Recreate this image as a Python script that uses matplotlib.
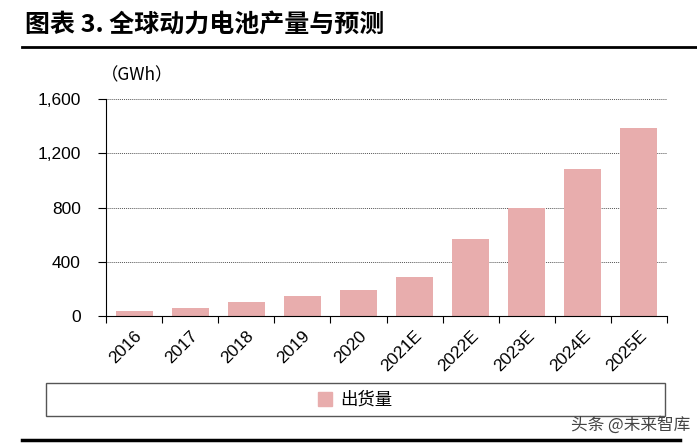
import matplotlib.pyplot as plt
from matplotlib.patches import Rectangle
from matplotlib.lines import Line2D
import numpy as np

plt.rcParams['font.family'] = ['Liberation Sans', 'Noto Sans CJK SC', 'DejaVu Sans']

# data
years = ["2016", "2017", "2018", "2019", "2020",
         "2021E", "2022E", "2023E", "2024E", "2025E"]
shipment = [37, 60, 104, 145, 190, 285, 572, 797, 1087, 1390]
y_ticks = [0, 400, 800, 1200, 1600]
title = "图表 3. 全球动力电池产量与预测"
unit = "（GWh）"
legend_label = "出货量"
watermark = "头条 @未来智库"

bar_color = "#E8ADAD"

W, H = 697, 447
fig = plt.figure(figsize=(W / 100, H / 100), dpi=100)

ax = fig.add_axes([106 / W, 1 - 316 / H, (667 - 106) / W, (316 - 99.3) / H])
x = np.arange(len(years))
ax.bar(x, shipment, width=0.66, color=bar_color, zorder=2)

ax.set_xlim(-0.5, len(years) - 0.5)
ax.set_ylim(0, 1600)
ax.set_yticks(y_ticks)
ax.set_yticklabels(["{:,}".format(v) for v in y_ticks])
ax.set_xticks(x)
ax.set_xticklabels(years, rotation=45, ha="right", va="top", rotation_mode="anchor")
ax.set_xticks(np.arange(-0.5, len(years)), minor=True)
ax.tick_params(axis="x", which="major", length=0, pad=9, labelsize=12.5)
ax.tick_params(axis="x", which="minor", length=5, width=0.8, direction="out")
ax.tick_params(axis="y", length=6, width=0.8, pad=12, labelsize=12.5)

ax.grid(axis="y", linestyle=(0, (1, 1)), color="#555555", linewidth=0.7, zorder=0)
for s in ["top", "right"]:
    ax.spines[s].set_visible(False)
for s in ["left", "bottom"]:
    ax.spines[s].set_color("black")
    ax.spines[s].set_linewidth(0.8)

# title and rules
fig.text(25 / W, 1 - 25 / H, title, fontsize=18, fontweight="bold",
         family=["Noto Sans CJK SC", "DejaVu Sans"], va="center", ha="left")
fig.add_artist(Line2D([22 / W, 1], [1 - 47 / H] * 2, color="black", lw=2))
fig.add_artist(Line2D([22 / W, 680 / W], [1 - 440 / H] * 2, color="black", lw=2.5))

fig.text(101 / W, 1 - 75 / H, unit, fontsize=12.5, va="center", ha="left",
         family=["Noto Sans CJK SC", "DejaVu Sans"])

# legend box
fig.add_artist(Rectangle((46 / W, 1 - 416 / H), (665 - 46) / W, (416 - 383) / H,
                         transform=fig.transFigure, fill=False, edgecolor="#555555", lw=1))
handle = Rectangle((0, 0), 1, 1, color=bar_color)
fig.legend([handle], [legend_label], loc="center", bbox_to_anchor=(355 / W, 1 - 400 / H),
           frameon=False, handlelength=0.8, handleheight=0.8, handletextpad=0.5,
           prop={"family": ["Noto Sans CJK SC"], "size": 12.5})

fig.text(690 / W, 1 - 425 / H, watermark, fontsize=12, color="#444444", ha="right",
         va="center", family=["Noto Sans CJK SC", "DejaVu Sans"])

fig.savefig("out.png", dpi=100)
